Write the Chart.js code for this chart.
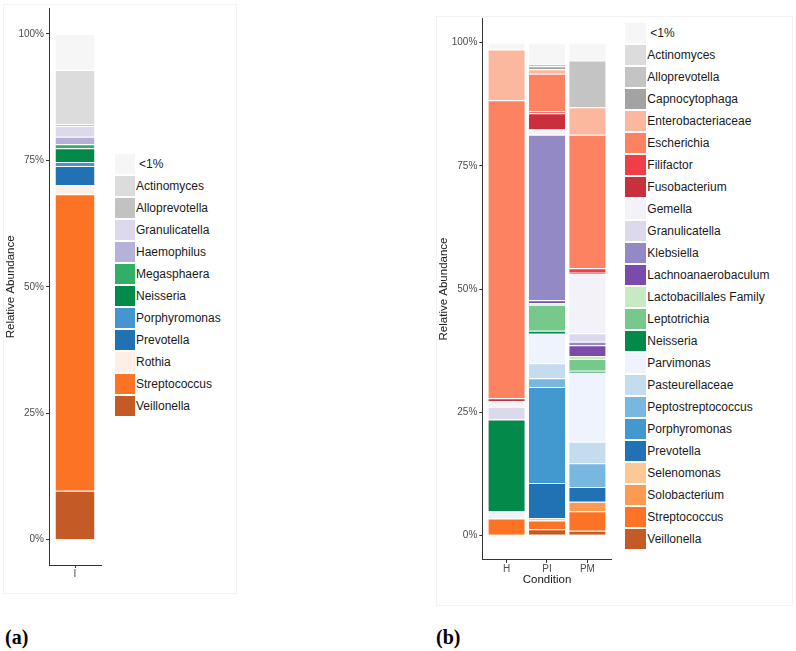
<!DOCTYPE html>
<html><head><meta charset="utf-8">
<script src="https://cdn.jsdelivr.net/npm/chart.js@4.4.1/dist/chart.umd.min.js"></script>
<style>
html,body{margin:0;padding:0;background:#fff;width:796px;height:651px;overflow:hidden;font-family:'Liberation Sans',Arial,sans-serif;}
.frame{position:absolute;border:1px solid #f3f3f3;box-sizing:border-box;}
canvas{position:absolute;}
.legend{position:absolute;}
.item{position:absolute;left:0;height:20px;width:200px;}
.sw{position:absolute;left:0;top:0;height:20px;}
.lab{position:absolute;top:0;line-height:20px;font-size:12px;color:#1a1a1a;white-space:nowrap;}
.tag{position:absolute;font-family:'Liberation Serif','DejaVu Serif',serif;font-weight:bold;font-size:20px;line-height:22px;color:#000;}
</style></head><body>
<div class="frame" style="left:3px;top:4px;width:234px;height:590px;"></div>
<div class="frame" style="left:436px;top:16px;width:357px;height:590px;"></div>
<canvas id="ca" width="110" height="600" style="left:0;top:0;width:110px;height:600px"></canvas>
<canvas id="cb" width="184" height="600" style="left:433px;top:0;width:184px;height:600px"></canvas>
<div id="la" class="legend" style="left:115px;top:154px"></div>
<div id="lb" class="legend" style="left:625px;top:23px"></div>
<div class="tag" style="left:5px;top:626px">(a)</div>
<div class="tag" style="left:436px;top:626px">(b)</div>
<script>
// ---------- Panel (a) ----------
const A_CATEGORIES = ['I'];
const A_GENERA = ['<1%','Actinomyces','Alloprevotella','Granulicatella','Haemophilus','Megasphaera','Neisseria','Porphyromonas','Prevotella','Rothia','Streptococcus','Veillonella'];
const A_SAMPLE_I = [7.1, 10.7, 0.4, 2.1, 1.5, 0.8, 2.7, 0.8, 3.8, 1.8, 58.6, 9.7];
const A_COLORS = ['#f6f6f6','#dcdcdc','#c2c2c2','#dcd9ec','#b6b1d9','#33ae67','#038a4a','#4596cf','#2171b5','#feeee3','#fd7325','#c45a26'];

// ---------- Panel (b) ----------
const B_CONDITIONS = ['H','PI','PM'];
const B_GENERA = ['<1%','Actinomyces','Alloprevotella','Capnocytophaga','Enterobacteriaceae','Escherichia','Filifactor','Fusobacterium','Gemella','Granulicatella','Klebsiella','Lachnoanaerobaculum','Lactobacillales Family','Leptotrichia','Neisseria','Parvimonas','Pasteurellaceae','Peptostreptococcus','Porphyromonas','Prevotella','Selenomonas','Solobacterium','Streptococcus','Veillonella'];
const B_H  = [1.4, 0,   0,   0,   10.3, 60.5, 0,   0.6, 1.1,  2.6, 0,    0,   0,   0,   18.6, 1.5,  0,   0,   0,    0,   0,   0,   3.4, 0];
const B_PI = [4.3, 0,   0.5, 0.6, 0.9,  7.6,  0.4, 3.3, 1.1,  0,   33.6, 0.6, 0.3, 5.3, 0.6,  6.0,  3.0, 1.8, 19.5, 7.1, 0.5, 0,   1.8, 1.2];
const B_PM = [3.3, 0.3, 9.5, 0,   5.6,  27.1, 0.9, 0.3, 12.0, 1.7, 0.7,  2.2, 0.6, 2.4, 0.4,  14.0, 4.4, 4.8, 0,    3.0, 0,   1.9, 4.0, 0.9];
const B_COLORS = ['#f6f6f6','#dcdcdc','#c4c4c4','#a3a3a3','#fcb89e','#fc8261','#ef3e48','#c92f3c','#f3f2f8','#dcd9ec','#9389c4','#7a4aac','#c8eac2','#76c98b','#038a4a','#eff3fd','#c5dbee','#78b7e0','#4299d0','#2171b5','#fdc896','#fd9a52','#fd7325','#c45a26'];

const TICK_VALUES = [0, 25, 50, 75, 100];

Chart.defaults.font.family = "'Liberation Sans', Arial, sans-serif";

const AXIS_COLOR = '#333333';
function yScale(width) {
  return {
    stacked: true, min: -5, max: 105,
    afterBuildTicks: s => { s.ticks = TICK_VALUES.map(v => ({value: v})); },
    afterFit: s => { s.width = width; },
    ticks: { callback: v => v + '%', color: '#4d4d4d', font: {size: 10}, padding: 2 },
    grid: { display: true, drawOnChartArea: false, drawTicks: true, tickLength: 3, color: AXIS_COLOR, offset: false },
    border: { display: true, color: AXIS_COLOR, width: 1 },
    title: { display: true, text: 'Relative Abundance', color: '#1a1a1a', font: {size: 11.5}, padding: {top: 4, bottom: 4} }
  };
}
const barStyle = {
  borderColor: '#ffffff',
  borderWidth: {top: 1, right: 0, bottom: 0, left: 0},
  borderSkipped: false,
  inflateAmount: 0,
  categoryPercentage: 1
};
const common = {
  animation: false, responsive: false, maintainAspectRatio: false, events: [],
  plugins: { legend: {display: false}, tooltip: {enabled: false} }
};

// Panel (a) chart
const dsA = [];
for (let i = A_GENERA.length - 1; i >= 0; i--) {
  dsA.push(Object.assign({
    label: A_GENERA[i],
    data: [A_SAMPLE_I[i] || null],
    backgroundColor: A_COLORS[i],
    barPercentage: 0.75
  }, barStyle));
}
new Chart(document.getElementById('ca'), {
  type: 'bar',
  data: { labels: A_CATEGORIES, datasets: dsA },
  options: Object.assign({}, common, {
    layout: { padding: {top: 8.7, right: 9, bottom: 0, left: 0} },
    scales: {
      x: {
        type: 'category', stacked: true, offset: true,
        afterFit: s => { s.height = 35; },
        ticks: { color: '#4d4d4d', font: {size: 10}, padding: 0 },
        grid: { display: true, drawOnChartArea: false, drawTicks: true, tickLength: 3, color: AXIS_COLOR, offset: false },
        border: { display: true, color: AXIS_COLOR, width: 1 }
      },
      y: yScale(49)
    }
  })
});

// Panel (b) chart
const B_SERIES = [B_H, B_PI, B_PM];
const dsB = [];
for (let i = B_GENERA.length - 1; i >= 0; i--) {
  dsB.push(Object.assign({
    label: B_GENERA[i],
    data: B_SERIES.map((arr, j) => ({x: j + 1, y: arr[i] || null})),
    backgroundColor: B_COLORS[i],
    barPercentage: 0.9
  }, barStyle));
}
new Chart(document.getElementById('cb'), {
  type: 'bar',
  data: { datasets: dsB },
  options: Object.assign({}, common, {
    layout: { padding: {top: 18.1, right: 5.3, bottom: 9.1, left: 0} },
    scales: {
      x: {
        type: 'linear', stacked: true, offset: false, min: 0.4, max: 3.6,
        afterBuildTicks: s => { s.ticks = B_CONDITIONS.map((c, j) => ({value: j + 1})); },
        afterFit: s => { s.height = 31; },
        ticks: { callback: v => B_CONDITIONS[Math.round(v) - 1], color: '#4d4d4d', font: {size: 10}, padding: 0, stepSize: 1 },
        grid: { display: true, drawOnChartArea: false, drawTicks: true, tickLength: 3, color: AXIS_COLOR, offset: false },
        border: { display: true, color: AXIS_COLOR, width: 1 },
        title: { display: true, text: 'Condition', color: '#1a1a1a', font: {size: 11.5}, padding: {top: 4, bottom: 4} }
      },
      y: yScale(49.3)
    }
  })
});

// HTML legends built from the same arrays
function buildLegend(el, names, colors, swW, textX) {
  names.forEach((n, i) => {
    const it = document.createElement('div');
    it.className = 'item';
    it.style.top = (i * 22) + 'px';
    const sw = document.createElement('div');
    sw.className = 'sw';
    sw.style.width = swW + 'px';
    sw.style.background = colors[i];
    const lb = document.createElement('div');
    lb.className = 'lab';
    lb.style.left = (n === '<1%' ? textX + 3 : textX) + 'px';
    lb.textContent = n;
    it.appendChild(sw); it.appendChild(lb);
    el.appendChild(it);
  });
}
buildLegend(document.getElementById('la'), A_GENERA, A_COLORS, 20, 21);
buildLegend(document.getElementById('lb'), B_GENERA, B_COLORS, 21, 22.3);
</script>
</body></html>
